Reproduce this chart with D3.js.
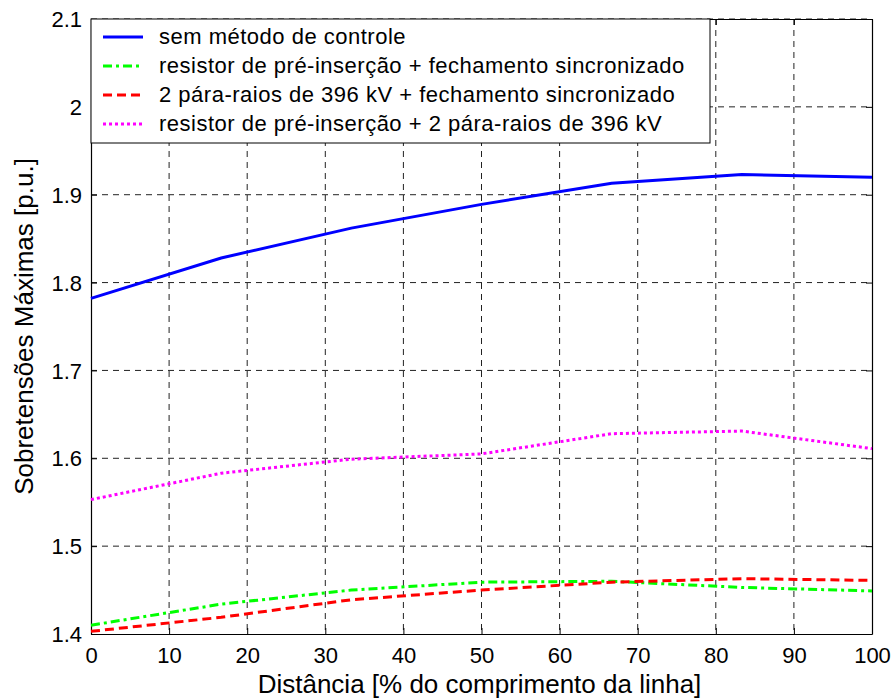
<!DOCTYPE html>
<html>
<head>
<meta charset="utf-8">
<script src="https://cdn.jsdelivr.net/npm/d3@7"></script>
<style>
  body { margin: 0; background: #fff; }
  svg { font-family: "Liberation Sans", Arial, sans-serif; }
</style>
</head>
<body>
<div id="main"></div>
<script>
// distance along the line, % of length
const distances = [0, 16.67, 33.33, 50, 66.67, 83.33, 100];

// maximum overvoltages, p.u.
const semControle = [1.782, 1.828, 1.862, 1.889, 1.913, 1.923, 1.920];
const resistorSincronizado = [1.410, 1.434, 1.450, 1.459, 1.460, 1.453, 1.449];
const paraRaiosSincronizado = [1.403, 1.419, 1.439, 1.450, 1.459, 1.463, 1.461];
const resistorParaRaios = [1.553, 1.583, 1.599, 1.605, 1.628, 1.631, 1.611];

const xTicks = [0, 10, 20, 30, 40, 50, 60, 70, 80, 90, 100];
const yTicks = [1.4, 1.5, 1.6, 1.7, 1.8, 1.9, 2.0, 2.1];

const seriesNames = [
  'sem método de controle',
  'resistor de pré-inserção + fechamento sincronizado',
  '2 pára-raios de 396 kV + fechamento sincronizado',
  'resistor de pré-inserção + 2 pára-raios de 396 kV'
];

const series = [
  {name: seriesNames[0], values: semControle, color: '#0000ff', dash: null},
  {name: seriesNames[1], values: resistorSincronizado, color: '#00ff00', dash: '9,4,3,4'},
  {name: seriesNames[2], values: paraRaiosSincronizado, color: '#ff0000', dash: '9,5'},
  {name: seriesNames[3], values: resistorParaRaios, color: '#ff00ff', dash: '3,3'}
];

const width = 895, height = 700;
const margin = {top: 19, right: 23, bottom: 66, left: 91};
const w = width - margin.left - margin.right;
const h = height - margin.top - margin.bottom;

const svg = d3.select('#main').append('svg')
  .attr('width', width)
  .attr('height', height);

const g = svg.append('g')
  .attr('transform', `translate(${margin.left},${margin.top})`);

const x = d3.scaleLinear().domain([0, 100]).range([0, w]);
const y = d3.scaleLinear().domain([1.4, 2.1]).range([h, 0]);

// grid
g.append('g')
  .selectAll('line')
  .data(xTicks.slice(1, -1))
  .enter().append('line')
    .attr('x1', d => x(d)).attr('x2', d => x(d))
    .attr('y1', 0).attr('y2', h)
    .attr('stroke', '#222').attr('stroke-width', 1)
    .attr('stroke-dasharray', '6,5');

g.append('g')
  .selectAll('line')
  .data(yTicks.slice(1))
  .enter().append('line')
    .attr('x1', 0).attr('x2', w)
    .attr('y1', d => y(d)).attr('y2', d => y(d))
    .attr('stroke', '#222').attr('stroke-width', 1)
    .attr('stroke-dasharray', '6,5');

// axes
const xAxis = g.append('g')
  .attr('transform', `translate(0,${h})`)
  .call(d3.axisBottom(x).tickValues(xTicks).tickSizeInner(-6).tickSizeOuter(0).tickPadding(13).tickFormat(d3.format('d')));
const yAxis = g.append('g')
  .call(d3.axisLeft(y).tickValues(yTicks).tickSizeInner(-6).tickSizeOuter(0).tickPadding(9).tickFormat(d => d3.format('')(+d.toFixed(1))));

g.append('g')
  .call(d3.axisTop(x).tickValues(xTicks).tickSizeInner(-6).tickSizeOuter(0).tickFormat(''));
g.append('g')
  .attr('transform', `translate(${w},0)`)
  .call(d3.axisRight(y).tickValues(yTicks).tickSizeInner(-6).tickSizeOuter(0).tickFormat(''));

g.selectAll('.domain').attr('stroke', '#000').attr('stroke-width', 1.2);
g.selectAll('.tick line').attr('stroke', '#000');
g.selectAll('.tick text').attr('font-size', 22).attr('fill', '#000')
  .attr('font-family', '"Liberation Sans", Arial, sans-serif');
yAxis.selectAll('.tick text').attr('dy', '0.35em');

// series
const line = d3.line()
  .x((d, i) => x(distances[i]))
  .y(d => y(d));

series.forEach(s => {
  g.append('path')
    .datum(s.values)
    .attr('fill', 'none')
    .attr('stroke', s.color)
    .attr('stroke-width', 3)
    .attr('stroke-dasharray', s.dash)
    .attr('d', line);
});

// legend
const legend = g.append('g');
legend.append('rect')
  .attr('x', 0).attr('y', 0)
  .attr('width', 619).attr('height', 124)
  .attr('fill', '#fff').attr('stroke', '#000').attr('stroke-width', 1);

series.forEach((s, i) => {
  const ly = 18 + i * 29;
  legend.append('line')
    .attr('x1', 12).attr('x2', 52)
    .attr('y1', ly).attr('y2', ly)
    .attr('stroke', s.color).attr('stroke-width', 3)
    .attr('stroke-dasharray', s.dash);
  legend.append('text')
    .attr('x', 68).attr('y', ly)
    .attr('dy', '0.3em')
    .attr('font-size', 22)
    .attr('letter-spacing', 0.5)
    .text(s.name);
});

// axis titles
svg.append('text')
  .attr('x', margin.left + w / 2 - 2).attr('y', 693)
  .attr('text-anchor', 'middle')
  .attr('font-size', 26)
  .text('Distância [% do comprimento da linha]');

svg.append('text')
  .attr('transform', `translate(33,${margin.top + h / 2}) rotate(-90)`)
  .attr('text-anchor', 'middle')
  .attr('font-size', 26)
  .text('Sobretensões Máximas [p.u.]');
</script>
</body>
</html>
